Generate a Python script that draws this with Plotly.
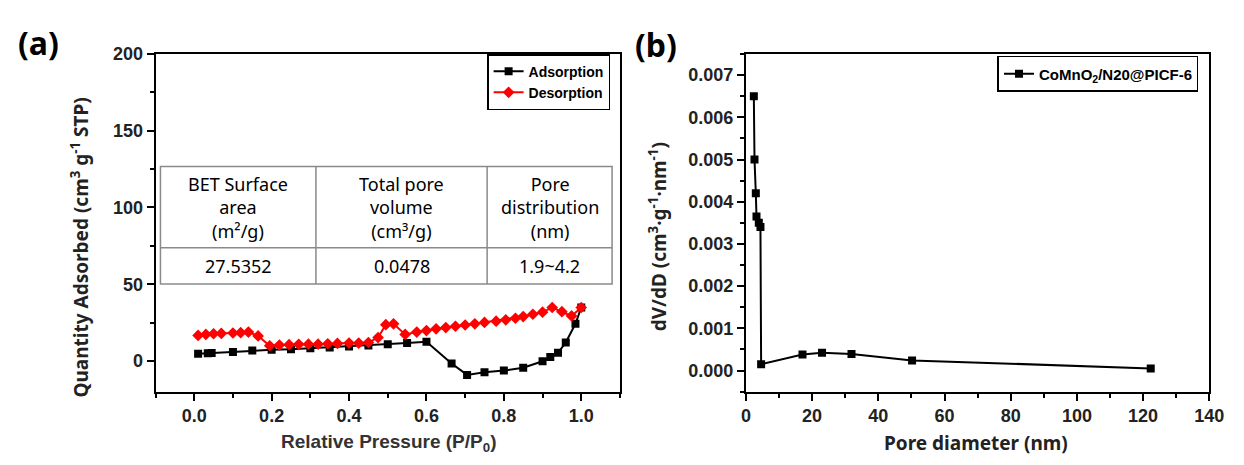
import plotly.graph_objects as go

# ---------------- data ----------------
ads_x = [0.01, 0.035, 0.045, 0.10, 0.15, 0.20, 0.25, 0.30, 0.35, 0.40, 0.45, 0.50,
         0.55, 0.60, 0.665, 0.705, 0.75, 0.80, 0.85, 0.90, 0.92, 0.94, 0.96, 0.985, 1.0]
ads_y = [4.6, 5.0, 5.2, 5.8, 6.8, 7.2, 7.6, 8.2, 8.8, 9.4, 10.0, 10.9,
         11.6, 12.5, -1.7, -9.1, -7.4, -6.3, -4.4, -0.2, 2.5, 5.3, 12.0, 24.2, 34.8]

des_x = [0.01, 0.03, 0.05, 0.07, 0.10, 0.12, 0.14, 0.165, 0.195, 0.22, 0.245, 0.27,
         0.295, 0.32, 0.345, 0.37, 0.40, 0.425, 0.45, 0.475, 0.495, 0.515, 0.545,
         0.575, 0.60, 0.625, 0.65, 0.675, 0.70, 0.725, 0.75, 0.78, 0.805, 0.83,
         0.85, 0.875, 0.90, 0.925, 0.95, 0.975, 1.0]
des_y = [16.6, 17.3, 17.7, 17.9, 18.2, 18.4, 18.8, 16.3, 9.9, 10.3, 10.6, 10.8,
         10.9, 10.9, 11.2, 11.4, 11.6, 11.6, 12.0, 15.2, 23.6, 24.2, 17.3,
         18.8, 19.8, 20.9, 21.7, 22.6, 23.4, 24.2, 25.1, 25.9, 26.8, 27.8,
         28.9, 30.4, 31.8, 34.8, 32.1, 29.3, 34.8]

pore_x = [2.4, 2.6, 3.0, 3.2, 3.9, 4.4, 4.6, 17.1, 23.0, 31.9, 50.2, 122.3]
pore_y = [0.0065, 0.0050, 0.0042, 0.00365, 0.0035, 0.0034, 0.00015,
          0.00038, 0.00042, 0.00039, 0.00024, 0.00005]

table_headers = ["BET Surface<br>area<br>(m²/g)", "Total pore<br>volume<br>(cm³/g)",
                 "Pore<br>distribution<br>(nm)"]
table_values = ["27.5352", "0.0478", "1.9~4.2"]

# ---------------- layout geometry (pixels) ----------------
W, H = 1244, 465
def px(x):
    return x / W
def py(y):
    return 1 - y / H

top, bot = 45, 390
fig = go.Figure()

fig.add_trace(go.Scatter(x=ads_x, y=ads_y, mode="lines+markers", name="Adsorption",
                         line=dict(color="black", width=2),
                         marker=dict(symbol="square", size=8, color="black"),
                         xaxis="x", yaxis="y", legend="legend"))
fig.add_trace(go.Scatter(x=des_x, y=des_y, mode="lines+markers", name="Desorption",
                         line=dict(color="red", width=2),
                         marker=dict(symbol="diamond", size=9, color="red"),
                         xaxis="x", yaxis="y", legend="legend"))
fig.add_trace(go.Scatter(x=pore_x, y=pore_y, mode="lines+markers",
                         name="CoMnO<sub>2</sub>/N20@PICF-6",
                         line=dict(color="black", width=2),
                         marker=dict(symbol="square", size=8, color="black"),
                         xaxis="x2", yaxis="y2", legend="legend2"))

tickfont = dict(family="Liberation Sans", size=18, color="#222", weight="bold")
axcommon = dict(showline=True, linecolor="black", linewidth=2, mirror=True,
                ticks="outside", ticklen=7, tickwidth=2, tickcolor="black",
                showgrid=False, zeroline=False, tickfont=tickfont)
minor_common = dict(ticks="outside", ticklen=4, tickwidth=2, tickcolor="black")

fig.update_layout(
    width=W, height=H, margin=dict(l=0, r=0, t=0, b=0),
    plot_bgcolor="white", paper_bgcolor="white",
    xaxis=dict(domain=[px(153), px(625)], range=[-0.1, 1.1], anchor="y",
               tickvals=[0.0, 0.2, 0.4, 0.6, 0.8, 1.0], tickformat=".1f",
               minor=dict(dtick=0.1, **minor_common), **axcommon),
    yaxis=dict(domain=[py(bot), py(top)], range=[-20, 200], anchor="x",
               dtick=50, minor=dict(dtick=25, **minor_common), **axcommon),
    xaxis2=dict(domain=[px(753), px(1224)], range=[0, 140], anchor="y2",
                dtick=20, minor=dict(dtick=10, **minor_common), **axcommon),
    yaxis2=dict(domain=[py(bot), py(top)], range=[-0.0005, 0.0075], anchor="x2",
                dtick=0.001, tickformat=".3f",
                minor=dict(dtick=0.0005, **minor_common), **axcommon),
    legend=dict(x=px(615), xanchor="right", y=py(45), yanchor="top",
                bgcolor="white", bordercolor="black", borderwidth=1.5,
                font=dict(family="Liberation Sans", size=14, color="black", weight="bold"),
                tracegroupgap=0, itemwidth=30),
    legend2=dict(x=px(1213), xanchor="right", y=py(47), yanchor="top",
                 bgcolor="white", bordercolor="black", borderwidth=1.5,
                 font=dict(family="Liberation Sans", size=15, color="black", weight="bold"),
                 itemwidth=30),
    showlegend=True,
)

# ---------------- table (inset) ----------------
tl, tr, tt, th, tb = 158, 617, 160, 243, 280
cols = [158, 316, 490, 617]
line_style = dict(color="#8a8a8a", width=1.5)
fig.add_shape(type="rect", xref="paper", yref="paper", x0=px(tl), x1=px(tr),
              y0=py(tb), y1=py(tt), line=line_style, fillcolor="white", layer="above")
fig.add_shape(type="line", xref="paper", yref="paper", x0=px(tl), x1=px(tr),
              y0=py(th), y1=py(th), line=line_style)
for c in cols[1:-1]:
    fig.add_shape(type="line", xref="paper", yref="paper", x0=px(c), x1=px(c),
                  y0=py(tb), y1=py(tt), line=line_style)
cellfont = dict(family="Noto Sans", size=18, color="#000")
for i, (hdr, val) in enumerate(zip(table_headers, table_values)):
    cx = (cols[i] + cols[i + 1]) / 2
    fig.add_annotation(x=px(cx), y=py((tt + th) / 2), xref="paper", yref="paper",
                       text=hdr, showarrow=False, font=cellfont, align="center",
                       xanchor="center", yanchor="middle")
    fig.add_annotation(x=px(cx), y=py((th + tb) / 2), xref="paper", yref="paper",
                       text=val, showarrow=False, font=cellfont,
                       xanchor="center", yanchor="middle")

# ---------------- titles / panel labels ----------------
titlefont = dict(family="Noto Sans", size=19, color="#222", weight="bold")
def ann(x, y, text, font, angle=0):
    fig.add_annotation(x=px(x), y=py(y), xref="paper", yref="paper", text=text,
                       showarrow=False, font=font, textangle=angle,
                       xanchor="center", yanchor="middle")

ann(76, 243, "Quantity Adsorbed (cm<sup>3</sup> g<sup>-1</sup> STP)", titlefont, -90)
ann(390, 443, "Relative Pressure (P/P<sub>0</sub>)",
    dict(family="Liberation Sans", size=19, color="#333", weight="bold"))
ann(664, 232, "dV/dD (cm<sup>3</sup>·g<sup>-1</sup>·nm<sup>-1</sup>)", titlefont, -90)
ann(987, 443, "Pore diameter (nm)", titlefont)
panelfont = dict(family="Noto Sans", size=32, color="black", weight="bold")
ann(34, 33, "(a)", panelfont)
ann(662, 35, "(b)", panelfont)

fig.write_html("out.html", config={"displayModeBar": False},
               post_script="document.body.style.margin='0px';")
